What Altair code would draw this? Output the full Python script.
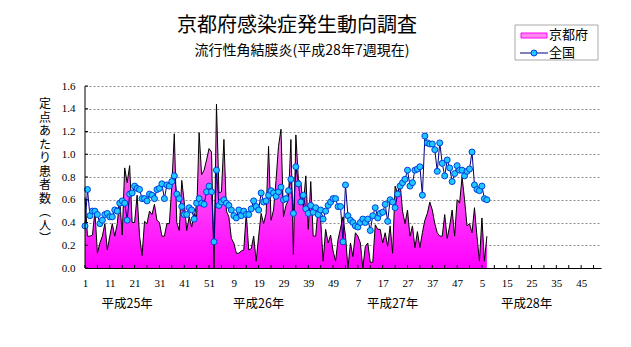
import json
import pandas as pd
import altair as alt

# ---- data ----
kyoto = [0.62, 0.28, 0.28, 0.29, 0.50, 0.13, 0.22, 0.28, 0.39, 0.16,
         0.28, 0.39, 0.28, 0.39, 0.60, 0.29, 0.88, 0.75, 0.90, 0.40,
         0.40, 0.64, 0.28, 0.11, 0.41, 0.39, 0.50, 0.47, 0.56, 0.42,
         0.40, 0.28, 0.28, 0.39, 0.39, 0.72, 1.18, 0.40, 0.33, 0.77,
         0.58, 0.33, 0.45, 0.36, 0.48, 0.45, 1.19, 0.82, 0.86, 0.95,
         1.05, 1.02, 0.00, 1.44, 0.66, 0.67, 1.13, 0.50, 0.45, 0.26,
         0.22, 0.13, 0.13, 0.15, 0.16, 0.48, 0.16, 0.17, 0.28, 0.06,
         0.28, 0.48, 0.39, 0.48, 1.07, 0.42, 0.51, 0.77, 1.07, 1.22,
         0.45, 0.55, 0.60, 1.13, 0.12, 1.17, 0.78, 0.75, 0.54, 0.81,
         0.34, 0.76, 0.28, 0.28, 0.54, 0.42, 0.06, 0.34, 0.22, 0.29,
         0.15, 0.06, 0.25, 0.35, 0.45, 0.28, 0.00, 0.22, 0.10, 0.31,
         0.28, 0.22, 0.00, 0.19, 0.22, 0.05, 0.05, 0.38, 0.34, 0.34,
         0.22, 0.31, 0.19, 0.37, 0.13, 0.72, 0.66, 0.75, 0.50, 0.39,
         0.51, 0.28, 0.37, 0.18, 0.32, 0.18, 0.31, 0.42, 0.48, 0.58,
         0.51, 0.39, 0.31, 0.28, 0.28, 0.47, 0.26, 0.37, 0.51, 0.28,
         0.60, 0.57, 0.80, 0.60, 0.37, 0.39, 0.31, 0.53, 0.28, 0.06,
         0.44, 0.06, 0.28]

national = [0.37, 0.69, 0.46, 0.50, 0.50, 0.47, 0.39, 0.42, 0.47, 0.48,
            0.45, 0.45, 0.51, 0.50, 0.57, 0.59, 0.57, 0.42, 0.65, 0.66,
            0.72, 0.70, 0.69, 0.61, 0.61, 0.59, 0.65, 0.64, 0.61, 0.69,
            0.70, 0.74, 0.61, 0.73, 0.72, 0.76, 0.81, 0.65, 0.61, 0.54,
            0.47, 0.47, 0.53, 0.51, 0.43, 0.57, 0.61, 0.57, 0.56, 0.67,
            0.72, 0.67, 0.23, 0.86, 0.55, 0.58, 0.60, 0.57, 0.55, 0.51,
            0.46, 0.44, 0.51, 0.46, 0.50, 0.47, 0.47, 0.52, 0.59, 0.54,
            0.51, 0.66, 0.58, 0.59, 0.64, 0.68, 0.66, 0.63, 0.67, 0.71,
            0.60, 0.61, 0.68, 0.78, 0.48, 0.89, 0.74, 0.58, 0.64, 0.52,
            0.48, 0.55, 0.49, 0.53, 0.47, 0.51, 0.43, 0.50, 0.55, 0.58,
            0.61, 0.61, 0.54, 0.54, 0.23, 0.73, 0.46, 0.42, 0.40, 0.37,
            0.36, 0.40, 0.43, 0.40, 0.43, 0.33, 0.46, 0.53, 0.44, 0.48,
            0.49, 0.56, 0.41, 0.60, 0.58, 0.53, 0.65, 0.72, 0.75, 0.78,
            0.86, 0.72, 0.75, 0.86, 0.87, 0.89, 0.64, 1.16, 1.10, 1.09,
            1.09, 1.04, 0.85, 1.10, 0.92, 0.81, 0.95, 0.88, 0.76, 0.83,
            0.90, 0.86, 0.86, 0.81, 0.85, 0.87, 1.02, 0.73, 0.69, 0.68,
            0.72, 0.61, 0.60]

tick_labels = ["1", "11", "21", "31", "41", "51", "9", "19", "29", "39", "49",
               "7", "17", "27", "37", "47", "5", "15", "25", "35", "45"]
year_labels = ["平成25年", "平成26年", "平成27年", "平成28年"]
year_label_week = [17, 70, 124, 178]
series_names = ["京都府", "全国"]
title_text = "京都府感染症発生動向調査"
subtitle_text = "流行性角結膜炎(平成28年7週現在)"
y_title = "定点あたり患者数︵人︶"
y_ticks = [0.0, 0.2, 0.4, 0.6, 0.8, 1.0, 1.2, 1.4, 1.6]
x_minor_ticks = list(range(0, 206, 5))
X_MAX = 208

# ---- layout ----
PW, PH = 516, 182
JP = "Noto Sans CJK JP"
NUM = "Liberation Sans Narrow"

df = pd.DataFrame({"week": list(range(len(kyoto))), "kyoto": kyoto, "national": national})
one = pd.DataFrame({"k": [0]})

xscale = alt.Scale(domain=[0, X_MAX], nice=False, zero=False)
yscale = alt.Scale(domain=[0, 1.6], nice=False)

xaxis = alt.Axis(values=list(range(0, 201, 10)),
                 labelExpr=json.dumps(tick_labels) + "[round(datum.value / 10)]",
                 ticks=False, grid=False, domainColor="black", domainWidth=1,
                 labelFont=NUM, labelFontSize=11, labelColor="black",
                 labelPadding=9, labelAngle=0, labelOverlap=False, labelFlush=False,
                 zindex=1)
yaxis = alt.Axis(values=y_ticks, format=".1f", ticks=False, grid=True,
                 gridColor="#8c8c8c", gridDash=[2, 2], gridWidth=1, domain=False,
                 labelFont=NUM, labelFontSize=11, labelColor="black",
                 labelPadding=10, zindex=0)

X = alt.X("week:Q", scale=xscale, axis=xaxis, title=None)

grad = alt.Gradient(gradient="linear",
                    stops=[alt.GradientStop(color="#ffb0f0", offset=0),
                           alt.GradientStop(color="#ff55f5", offset=0.45),
                           alt.GradientStop(color="#ff00ff", offset=1)],
                    x1=0, x2=0, y1=0, y2=1)

area = alt.Chart(df).mark_area(color=grad, interpolate="linear").encode(
    x=X, y=alt.Y("kyoto:Q", scale=yscale, axis=yaxis, title=None))
outline = alt.Chart(df).mark_line(color="black", strokeWidth=1).encode(
    x=X, y=alt.Y("kyoto:Q", scale=yscale, axis=yaxis, title=None))
nat_line = alt.Chart(df).mark_line(color="#000080", strokeWidth=1).encode(
    x=X, y=alt.Y("national:Q", scale=yscale, axis=yaxis, title=None))
nat_pts = alt.Chart(df).mark_point(shape="circle", filled=True, size=36, fill="#20c8ff",
                                   stroke="#0040e0", strokeWidth=1, opacity=1).encode(
    x=X, y=alt.Y("national:Q", scale=yscale, axis=yaxis, title=None))

# inside tick marks
xt = alt.Chart(pd.DataFrame({"t": x_minor_ticks})).mark_rule(color="black").encode(
    x=alt.X("t:Q", scale=xscale, axis=xaxis, title=None),
    y=alt.value(PH), y2=alt.value(PH - 3))
yt = alt.Chart(pd.DataFrame({"v": y_ticks})).mark_rule(color="black").encode(
    y=alt.Y("v:Q", scale=yscale, axis=yaxis, title=None),
    x=alt.value(0), x2=alt.value(3))
ydomain = alt.Chart(one).mark_rule(color="black").encode(
    x=alt.value(0), y=alt.value(0), y2=alt.value(PH))

# titles
title = alt.Chart(one).mark_text(font=JP, fontSize=20, align="center", baseline="middle",
                                 color="black").encode(
    x=alt.value(212), y=alt.value(-60), text=alt.value(title_text))
subtitle = alt.Chart(one).mark_text(font=JP, fontSize=14, align="center", baseline="middle",
                                    color="black").encode(
    x=alt.value(217), y=alt.value(-35), text=alt.value(subtitle_text))
ytitle = alt.Chart(one).mark_text(font=JP, fontSize=12, lineHeight=13.5, align="center",
                                  baseline="top", lineBreak="\n", color="black").encode(
    x=alt.value(-40), y=alt.value(13), text=alt.value("\n".join(list(y_title))))
years = alt.Chart(pd.DataFrame({"w": year_label_week, "lab": year_labels})).mark_text(
    font=JP, fontSize=12.5, align="center", baseline="middle", color="black").encode(
    x=alt.X("w:Q", scale=xscale, axis=xaxis, title=None), y=alt.value(218), text="lab:N")

# legend
leg_box = alt.Chart(one).mark_rect(fill="white", stroke="#a8a8a8", strokeWidth=1).encode(
    x=alt.value(430), x2=alt.value(513), y=alt.value(-61), y2=alt.value(-26))
leg_sw = alt.Chart(one).mark_rect(fill="#ff88ee", stroke="#ff00ff", strokeWidth=1).encode(
    x=alt.value(436), x2=alt.value(462), y=alt.value(-53), y2=alt.value(-48))
leg_t1 = alt.Chart(one).mark_text(font=JP, fontSize=13, align="left", baseline="middle",
                                  color="black").encode(
    x=alt.value(464), y=alt.value(-51), text=alt.value(series_names[0]))
leg_ln = alt.Chart(one).mark_rule(color="#000080").encode(
    x=alt.value(435), x2=alt.value(463), y=alt.value(-33))
leg_pt = alt.Chart(one).mark_point(shape="circle", filled=True, size=36, fill="#20c8ff",
                                   stroke="#0040e0", strokeWidth=1, opacity=1).encode(
    x=alt.value(449), y=alt.value(-33))
leg_t2 = alt.Chart(one).mark_text(font=JP, fontSize=13, align="left", baseline="middle",
                                  color="black").encode(
    x=alt.value(464), y=alt.value(-33), text=alt.value(series_names[1]))

chart = alt.layer(area, outline, nat_line, nat_pts, xt, yt, ydomain,
                  title, subtitle, ytitle, years,
                  leg_box, leg_sw, leg_t1, leg_ln, leg_pt, leg_t2).properties(
    width=PW, height=PH,
    autosize=alt.AutoSizeParams(type="none"),
    padding={"left": 85, "top": 86, "right": 30, "bottom": 79},
).configure(background="white").configure_view(strokeWidth=0)

chart.save("out.html", embed_options={"renderer": "svg", "actions": False})
